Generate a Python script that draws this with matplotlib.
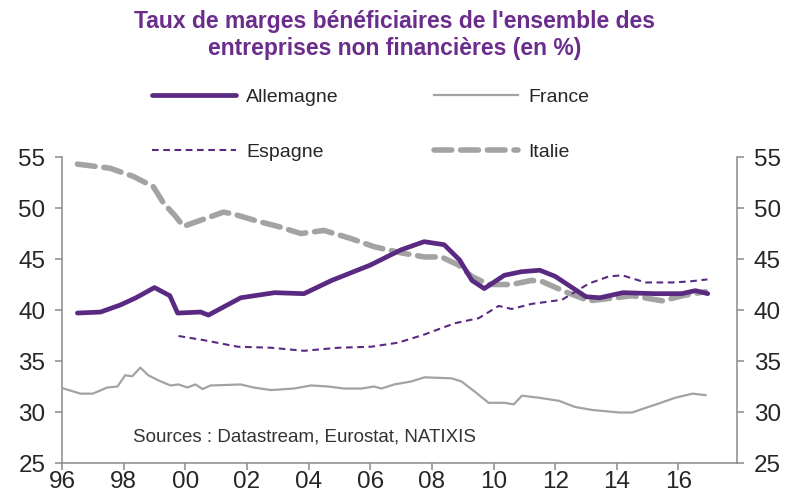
import numpy as np
from matplotlib import pyplot as plt

plt.rcParams['font.family'] = ['Liberation Sans', 'DejaVu Sans']

# Allemagne
de_years = [1996.5, 1997.25, 1997.9, 1998.4, 1999.0, 1999.5, 1999.75, 2000.5, 2000.75,
            2001.8, 2002.9, 2003.85, 2004.75, 2006.0, 2007.0, 2007.75, 2008.4, 2008.9,
            2009.3, 2009.7, 2010.35, 2010.9, 2011.5, 2012.0, 2013.0, 2013.45, 2014.2,
            2015.25, 2016.1, 2016.55, 2016.95]
de_vals = [39.7, 39.8, 40.5, 41.2, 42.2, 41.4, 39.7, 39.8, 39.5,
           41.2, 41.7, 41.6, 42.9, 44.4, 45.9, 46.7, 46.4, 44.9,
           42.9, 42.1, 43.4, 43.75, 43.9, 43.3, 41.3, 41.2, 41.7,
           41.6, 41.6, 41.9, 41.6]

# France
fr_years = [1996.0, 1996.6, 1997.0, 1997.47, 1997.8, 1998.05, 1998.28, 1998.54, 1998.8,
            1999.13, 1999.52, 1999.78, 2000.07, 2000.33, 2000.56, 2000.82, 2001.8,
            2002.22, 2002.78, 2003.52, 2004.08, 2004.63, 2005.15, 2005.71, 2006.13,
            2006.36, 2006.78, 2007.34, 2007.76, 2008.64, 2008.96, 2009.39, 2009.84,
            2010.36, 2010.66, 2010.92, 2011.47, 2012.12, 2012.64, 2013.2, 2014.08,
            2014.5, 2014.93, 2015.38, 2015.9, 2016.46, 2016.88]
fr_vals = [32.35, 31.8, 31.8, 32.4, 32.5, 33.6, 33.5, 34.35, 33.6,
           33.1, 32.6, 32.7, 32.4, 32.7, 32.25, 32.6, 32.7,
           32.4, 32.15, 32.3, 32.6, 32.5, 32.3, 32.3, 32.5,
           32.3, 32.7, 33.0, 33.4, 33.3, 33.0, 32.0, 30.9,
           30.9, 30.75, 31.6, 31.4, 31.1, 30.5, 30.2, 29.95,
           29.95, 30.4, 30.85, 31.4, 31.8, 31.65]

# Espagne
es_years = [1999.78, 2000.59, 2001.7, 2002.78, 2003.85, 2004.96, 2006.03, 2006.91,
            2007.76, 2008.74, 2009.52, 2010.17, 2010.59, 2011.24, 2012.22, 2013.1,
            2013.75, 2014.18, 2014.93, 2015.8, 2016.36, 2016.94]
es_vals = [37.45, 37.05, 36.4, 36.3, 36.0, 36.3, 36.4, 36.8,
           37.6, 38.7, 39.2, 40.4, 40.1, 40.6, 41.0, 42.6,
           43.3, 43.4, 42.7, 42.7, 42.8, 43.0]

# Italie
it_years = [1996.5, 1997.56, 1998.31, 1998.96, 1999.29, 1999.68, 1999.94, 2000.5,
            2001.24, 2001.57, 2002.35, 2003.0, 2003.75, 2004.5, 2005.38, 2006.13,
            2007.01, 2007.76, 2008.31, 2008.87, 2009.29, 2009.84, 2010.59, 2011.24,
            2011.57, 2012.32, 2013.1, 2013.95, 2014.5, 2015.48, 2016.13, 2016.88]
it_vals = [54.3, 53.9, 53.1, 52.1, 50.5, 49.2, 48.2, 48.8,
           49.6, 49.4, 48.7, 48.2, 47.5, 47.8, 47.0, 46.2,
           45.6, 45.2, 45.2, 44.4, 43.3, 42.5, 42.5, 42.9,
           42.8, 41.8, 40.9, 41.2, 41.4, 40.9, 41.4, 41.8]

tick_years = list(range(1996, 2017, 2))
tick_labels = [f"{y % 100:02d}" for y in tick_years]
y_ticks = [25, 30, 35, 40, 45, 50, 55]

purple = '#5a2a82'
gray = '#a3a3a3'
text_col = '#262626'

fig = plt.figure(figsize=(7.9, 4.99), dpi=100)
ax = fig.add_axes([62/790, 1-463/499, 675/790, 306/499])

l_de, = ax.plot(de_years, de_vals, color=purple, lw=3.4, solid_capstyle='round', label='Allemagne', zorder=4)
l_fr, = ax.plot(fr_years, fr_vals, color=gray, lw=1.6, label='France', zorder=3)
l_es, = ax.plot(es_years, es_vals, color=purple, lw=1.5, dashes=(3.2, 2.2), label='Espagne', zorder=3)
l_it, = ax.plot(it_years, it_vals, color=gray, lw=4.0, dashes=(3.2, 1.6), dash_capstyle='round', label='Italie', zorder=2)

ax.set_xlim(1996, 2017.9)
ax.set_ylim(25, 55)
ax.set_xticks(tick_years)
ax.set_xticklabels(tick_labels)
ax.set_yticks(y_ticks)

for s in ['left', 'right', 'bottom']:
    ax.spines[s].set_color('#8a8a8a')
    ax.spines[s].set_linewidth(1.1)
ax.spines['top'].set_visible(False)
ax.tick_params(axis='both', direction='out', length=5, width=1.1, color='#8a8a8a',
               labelsize=17.5, labelcolor=text_col)
ax.tick_params(axis='y', left=True, right=True, labelleft=True, labelright=True, pad=7)
ax.tick_params(axis='x', pad=1)

ax.text(0.105, 0.085, "Sources : Datastream, Eurostat, NATIXIS", transform=ax.transAxes,
        fontsize=13.5, color='#333333', va='center', ha='left')

fig.text(0.5, 1-10/499, "Taux de marges bénéficiaires de l'ensemble des\nentreprises non financières (en %)",
         ha='center', va='top', fontsize=16.5, fontweight='bold', color='#6b2d8c', linespacing=1.25)

fig.legend(handles=[l_de, l_es, l_fr, l_it], ncol=2, loc='upper left',
           bbox_to_anchor=(152/790, 1-88/499), frameon=False, fontsize=14,
           handlelength=4.3, handletextpad=0.55, columnspacing=4.9, labelspacing=1.95,
           borderpad=0, borderaxespad=0, labelcolor=text_col)

fig.savefig('out.png', dpi=100)
